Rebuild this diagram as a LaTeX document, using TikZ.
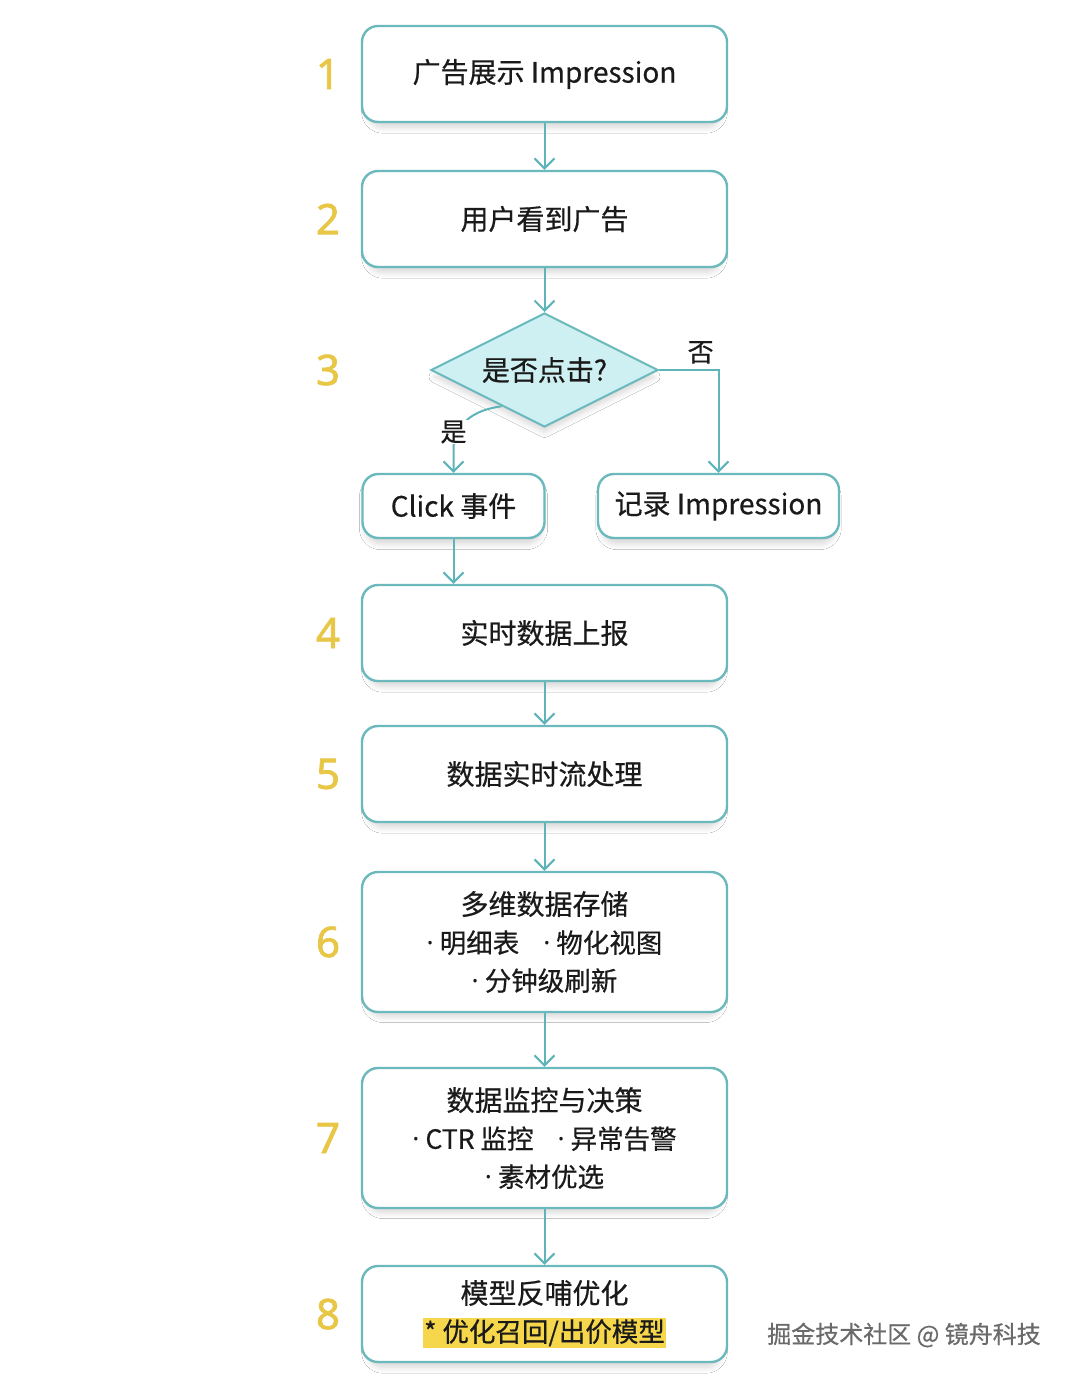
\documentclass[tikz,border=0pt]{standalone}
\usepackage{fontspec}
\setmainfont{Noto Sans CJK SC}[FakeBold=0.5]
\newfontfamily\numfont{Noto Sans}[FakeBold=1.6]
\newfontfamily\dotfont{Noto Sans}
\usetikzlibrary{arrows.meta,shapes.geometric,shadows.blur}
\definecolor{bordc}{HTML}{6BB9BD}
\definecolor{linec}{HTML}{5EB4B9}
\definecolor{diafill}{HTML}{CFF0F2}
\definecolor{numc}{HTML}{E8C646}
\definecolor{txtc}{HTML}{1A1A1A}
\definecolor{hlc}{HTML}{F6D74C}
\definecolor{wmc}{HTML}{6A6A6A}
\newcommand{\bdot}{{\dotfont·}\hspace{6pt}}
\begin{document}
\begin{tikzpicture}[x=1pt,y=-1pt,
  sh/.style={blur shadow={shadow blur steps=10, shadow xshift=0pt, shadow yshift=-7pt, shadow opacity=16, shadow blur radius=6pt, shadow scale=0.97}},
  box/.style={draw=bordc, line width=2.4pt, rounded corners=16pt, fill=white, minimum width=365pt, minimum height=96pt, align=center, text=txtc, font=\fontsize{28}{38}\selectfont, sh},
  smallbox/.style={box, minimum height=64pt, minimum width=182pt},
  dia/.style={diamond, draw=bordc, line width=2pt, fill=diafill, minimum width=227pt, minimum height=114pt, inner sep=0pt, aspect=2, text=txtc, font=\fontsize{28}{34}\selectfont, sh},
  arr/.style={draw=linec, line width=2pt, -{Straight Barb[length=10pt,width=20pt,line width=2pt]}},
  num/.style={text=numc, font=\numfont\fontsize{42}{42}\selectfont},
  lbl/.style={text=txtc, font=\fontsize{26}{30}\selectfont}
]
\useasboundingbox[fill=white] (0,0) rectangle (1080,1383);

% numbers
\node[num] (n1) at (328,74) {1};
\node[num] (n2) at (328,219) {2};
\node[num] (n3) at (328,370) {3};
\node[num] (n4) at (328,633) {4};
\node[num] (n5) at (328,774) {5};
\node[num] (n6) at (328,942) {6};
\node[num] (n7) at (328,1138) {7};
\node[num] (n8) at (328,1314) {8};

% boxes
\node[box] (b1) at (544.5,74) {广告展示 Impression};
\node[box] (b2) at (544.5,219) {用户看到广告};
\node[dia] (d) at (544.5,370) {是否点击?};
\node[smallbox] (click) at (453.5,506) {Click 事件};
\node[smallbox, minimum width=241pt] (rec) at (718.5,506) {记录 Impression};
\node[box] (b4) at (544.5,633) {实时数据上报};
\node[box] (b5) at (544.5,774) {数据实时流处理};
\node[box, minimum height=140pt] (b6) at (544.5,942) {多维数据存储\\{\fontsize{26.5}{38}\selectfont \bdot 明细表\hspace{24pt}\bdot 物化视图}\\{\fontsize{26.5}{38}\selectfont \bdot 分钟级刷新}};
\node[box, minimum height=140pt] (b7) at (544.5,1138) {数据监控与决策\\{\fontsize{26.5}{38}\selectfont \bdot CTR 监控\hspace{24pt}\bdot 异常告警}\\{\fontsize{26.5}{38}\selectfont \bdot 素材优选}};
\node[box] (b8) at (544.5,1314) {模型反哺优化\\{\fontsize{26.5}{38}\selectfont\setlength{\fboxsep}{1.5pt}\colorbox{hlc}{* 优化召回/出价模型}}};

% connectors
\draw[arr] (b1.south) -- (b2.north);
\draw[arr] (b2.south) -- (d.north);
\draw[arr] (d.east) -| node[lbl, pos=0.35, above=2pt] (no) {否} (rec.north);
\coordinate (ys) at ($(d.south west)!0.25!(d.south)$);
\coordinate (ym) at (453.5,446);
\draw[arr] (ys) .. controls (476,410) and (458,420) .. (ym) -- (click.north);
\node[lbl, fill=white, inner sep=1pt] (yes) at (453.5,432) {是};
\draw[arr] (click.south) -- (click.south |- b4.north);
\draw[arr] (b4.south) -- (b5.north);
\draw[arr] (b5.south) -- (b6.north);
\draw[arr] (b6.south) -- (b7.north);
\draw[arr] (b7.south) -- (b8.north);

% watermark
\node[text=wmc, font=\fontsize{24}{28}\selectfont] (wm) at (904,1335) {掘金技术社区 @ 镜舟科技};
\end{tikzpicture}
\end{document}
